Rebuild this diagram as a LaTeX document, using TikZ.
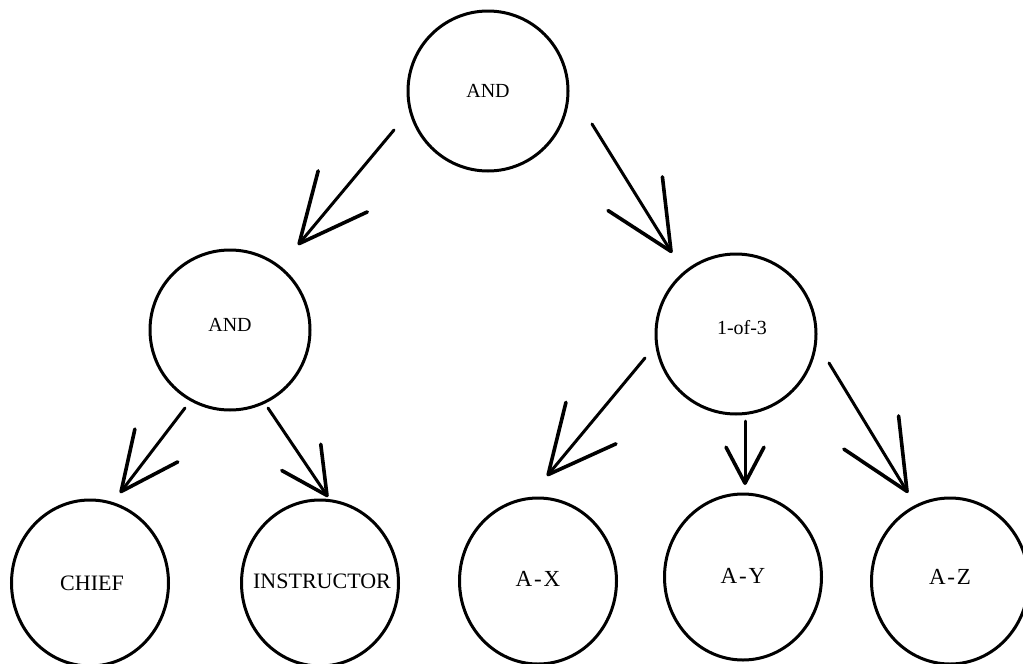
\documentclass[tikz,border=0pt]{standalone}
\usepackage{fontspec}
\setmainfont{Liberation Serif}
\newfontfamily\spacedserif[LetterSpace=8]{Liberation Serif}
\usetikzlibrary{arrows.meta,shapes.geometric,calc}

\tikzset{
  gate/.style={draw, line width=3pt, ellipse, inner sep=0pt,
    minimum width=160pt, minimum height=160pt},
  leaf/.style={gate, minimum width=157pt, minimum height=166pt},
  gtext/.style={font=\fontsize{20}{24}\selectfont, inner sep=0pt},
  ltext/.style={font=\fontsize{22}{26}\selectfont, inner sep=0pt},
  wtext/.style={font=\spacedserif\fontsize{23}{27}\selectfont, inner sep=0pt},
  shaft/.style={line width=3pt, line cap=round},
  barb/.style 2 args={shaft,
    -{Straight Barb[length=#1, width=#2, line width=3.6pt, round]}},
}

\begin{document}
\begin{tikzpicture}[x=1pt, y=-1pt]
  \useasboundingbox (0,0) rectangle (1023,664);

  % gates
  \node[gate, label={[gtext]center:AND}] (top) at (488,91) {};
  \node[gate, label={[gtext,yshift=5pt]center:AND}] (left) at (230,330) {};
  \node[gate, label={[gtext,xshift=6pt,yshift=6pt]center:1-of-3}] (pick) at (736,334) {};

  % leaves
  \node[leaf, label={[ltext,xshift=2pt]center:CHIEF}] (chief) at (90,583) {};
  \node[leaf, label={[ltext,xshift=2pt,yshift=2pt]center:INSTRUCTOR}] (instr) at (320,583) {};
  \node[leaf, label={[wtext,yshift=2pt]center:A-X}] (ax) at (538,581) {};
  \node[leaf, label={[wtext,yshift=1pt]center:A-Y}] (ay) at (743,577) {};
  \node[leaf, label={[wtext,yshift=4pt]center:A-Z}] (az) at (950,581) {};

  % connectors
  \draw[barb={68pt}{64pt}] ($(top)+(-94,39)$)  -- ($(left)+(68,-85)$);
  \draw[barb={68pt}{64pt}] ($(top)+(104,33)$)  -- ($(pick)+(-64,-81)$);
  \draw[barb={58pt}{54pt}] ($(left)+(-45,78)$) -- ($(chief)+(30,-90)$);
  \draw[barb={46pt}{47pt}] ($(left)+(38,78)$)  -- ($(instr)+(8,-86)$);
  \draw[barb={67pt}{65pt}] ($(pick)+(-91,24)$) -- ($(ax)+(9,-105)$);
  \draw[barb={36pt}{38pt}] ($(pick)+(9,87)$)   -- ($(ay)+(2,-92)$);
  \draw[barb={69pt}{64pt}] ($(pick)+(93,29)$)  -- ($(az)+(-42,-88)$);
\end{tikzpicture}
\end{document}
